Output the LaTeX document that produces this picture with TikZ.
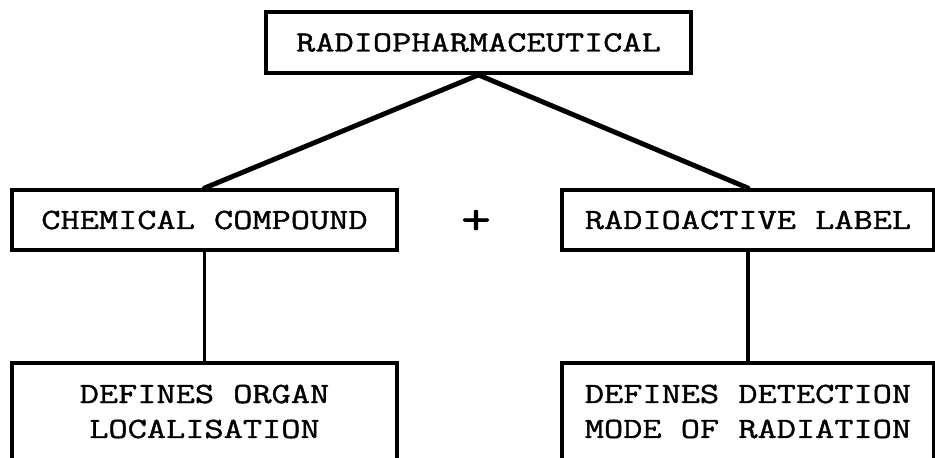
\documentclass[tikz,border=0pt]{standalone}
\usepackage{fontspec}
\setmonofont[FakeStretch=1.27, FakeBold=1.3]{Latin Modern Mono}
\usepackage{tikz}
\tikzset{
  rpbox/.style={draw=black, line width=2.2pt, fill=white, inner sep=0pt,
    font=\ttfamily\fontsize{16.7}{19.9}\selectfont, align=center},
  rpstem/.style={line width=2.2pt, draw=black},
  rpleg/.style={line width=2.8pt, draw=black, line cap=round},
}

\begin{document}
\begin{tikzpicture}
\useasboundingbox (0.000,0.000) rectangle (18.700,9.140);
\clip (0.000,0.000) rectangle (18.700,9.140);
\node[rpbox, minimum width=8.500cm, minimum height=1.220cm] (pharm) at (9.570,8.290) {RADIOPHARMACEUTICAL};
\node[rpbox, minimum width=7.700cm, minimum height=1.200cm] (chem) at (4.090,4.740) {CHEMICAL COMPOUND};
\node[rpbox, minimum width=7.440cm, minimum height=1.200cm] (label) at (14.960,4.740) {RADIOACTIVE LABEL};
\node[rpbox, minimum width=7.700cm, minimum height=1.940cm] (organ) at (4.090,0.910) {DEFINES ORGAN\\LOCALISATION};
\node[rpbox, minimum width=7.440cm, minimum height=1.940cm] (detect) at (14.960,0.910) {DEFINES DETECTION\\MODE OF RADIATION};
\node[font=\ttfamily\bfseries\fontsize{26}{30}\selectfont, inner sep=0pt] (plus) at (9.520,4.700) {+};
\draw[rpleg] (pharm.south) -- (chem.north);
\draw[rpleg] (pharm.south) -- (label.north);
\draw[rpstem] (chem.south) -- (organ.north);
\draw[rpstem] (label.south) -- (detect.north);
\end{tikzpicture}
\end{document}
